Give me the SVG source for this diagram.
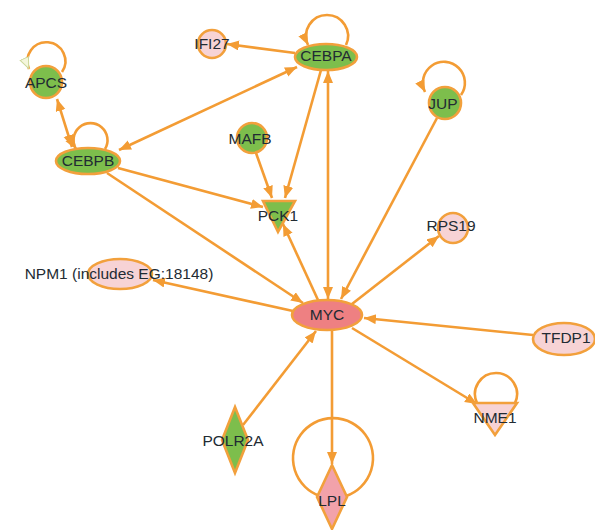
<svg xmlns="http://www.w3.org/2000/svg" width="595" height="530" viewBox="0 0 595 530">
  <style>
    .edge { fill: none; stroke: #F39C34; stroke-width: 2.6; }
    .node { stroke: #F2A03C; stroke-width: 2.6; }
    .green { fill: #7DBE4C; }
    .pale { fill: #F7D3D5; }
    .myc { fill: #EE8082; }
    .lpl { fill: #F2A2AA; }
    text { font-family: "Liberation Sans", Arial, sans-serif; font-size: 15.5px; fill: #222B33; text-anchor: middle; dominant-baseline: central; }
  </style>
  <defs>
    <marker id="arrow" markerUnits="userSpaceOnUse" markerWidth="13" markerHeight="11" refX="12" refY="5" orient="auto-start-reverse" viewBox="0 0 13 11">
      <path d="M0,0 L12,5 L0,10 z" fill="#F39C34"/>
    </marker>
    <marker id="arrowPale" markerUnits="userSpaceOnUse" markerWidth="13" markerHeight="11" refX="12" refY="5" orient="auto" viewBox="0 0 13 11">
      <path d="M0.5,0.5 L11.5,5 L0.5,9.5 z" fill="#F4F6DC" stroke="#CBD79A" stroke-width="1"/>
    </marker>
  </defs>

  <rect width="595" height="530" fill="#FFFFFF"/>

  <g id="connectors">
    <!-- self loops -->
    <path class="edge" d="M62,72 A19,19 0 1 0 29,69" marker-end="url(#arrowPale)"/>
    <path class="edge" d="M105,149 A17,17 0 1 0 76,149" marker-end="url(#arrow)"/>
    <path class="edge" d="M346,45 A21,21 0 1 0 308,45" marker-end="url(#arrow)"/>
    <path class="edge" d="M461,95 A21,21 0 1 0 425,92" marker-end="url(#arrow)"/>
    <path class="edge" d="M515,403 A21,21 0 1 0 477,403"/>
    <path class="edge" d="M346,496 A40,40 0 1 0 320,496"/>

    <!-- links -->
    <path class="edge" d="M57,99 L72,147" marker-start="url(#arrow)" marker-end="url(#arrow)"/>
    <path class="edge" d="M119,150 L297,67" marker-start="url(#arrow)" marker-end="url(#arrow)"/>
    <path class="edge" d="M295,53 L227,44" marker-end="url(#arrow)"/>
    <path class="edge" d="M118,168 L263,207" marker-end="url(#arrow)"/>
    <path class="edge" d="M107,173 L303,303" marker-end="url(#arrow)"/>
    <path class="edge" d="M256,153 L272,198" marker-end="url(#arrow)"/>
    <path class="edge" d="M321,70 L285,198" marker-end="url(#arrow)"/>
    <path class="edge" d="M328,71 L328,299" marker-start="url(#arrow)" marker-end="url(#arrow)"/>
    <path class="edge" d="M318,300 L283,224" marker-end="url(#arrow)"/>
    <path class="edge" d="M437,118 L341,299" marker-end="url(#arrow)"/>
    <path class="edge" d="M352,304 L439,236" marker-end="url(#arrow)"/>
    <path class="edge" d="M293,311 L153,280" marker-end="url(#arrow)"/>
    <path class="edge" d="M533,335 L364,318" marker-end="url(#arrow)"/>
    <path class="edge" d="M352,328 L477,404" marker-end="url(#arrow)"/>
    <path class="edge" d="M243,425 L316,331" marker-end="url(#arrow)"/>
    <path class="edge" d="M332,330 L332,464" marker-end="url(#arrow)"/>
  </g>

  <g id="APCS">
    <circle class="node green" cx="46" cy="82" r="16"/>
    <text x="46" y="82">APCS</text>
  </g>
  <g id="CEBPB">
    <ellipse class="node green" cx="88" cy="161" rx="32" ry="13"/>
    <text x="88" y="160">CEBPB</text>
  </g>
  <g id="CEBPA">
    <ellipse class="node green" cx="326" cy="57" rx="31" ry="13"/>
    <text x="326" y="55">CEBPA</text>
  </g>
  <g id="IFI27">
    <circle class="node pale" cx="212" cy="44" r="14"/>
    <text x="212" y="43">IFI27</text>
  </g>
  <g id="MAFB">
    <circle class="node green" cx="252" cy="138" r="15"/>
    <text x="250" y="138">MAFB</text>
  </g>
  <g id="PCK1">
    <polygon class="node green" points="263,201 295,201 278,232"/>
    <text x="278" y="215">PCK1</text>
  </g>
  <g id="JUP">
    <circle class="node green" cx="445" cy="103" r="16"/>
    <text x="443" y="103">JUP</text>
  </g>
  <g id="RPS19">
    <circle class="node pale" cx="453" cy="228" r="15"/>
    <text x="451" y="225">RPS19</text>
  </g>
  <g id="NPM1">
    <ellipse class="node pale" cx="120" cy="274" rx="32" ry="15"/>
    <text x="119" y="273">NPM1 (includes EG:18148)</text>
  </g>
  <g id="MYC">
    <ellipse class="node myc" cx="327" cy="315" rx="35" ry="15"/>
    <text x="327" y="314">MYC</text>
  </g>
  <g id="TFDP1">
    <ellipse class="node pale" cx="564" cy="339" rx="31" ry="16"/>
    <text x="566" y="337">TFDP1</text>
  </g>
  <g id="NME1">
    <polygon class="node pale" points="473,403 517,403 495,435"/>
    <text x="495" y="417">NME1</text>
  </g>
  <g id="POLR2A">
    <polygon class="node green" points="235,407 248,440 235,473 222,440"/>
    <text x="233" y="440">POLR2A</text>
  </g>
  <g id="LPL">
    <polygon class="node lpl" points="332,465 347,497 332,529 317,497"/>
    <text x="332" y="500">LPL</text>
  </g>
</svg>
